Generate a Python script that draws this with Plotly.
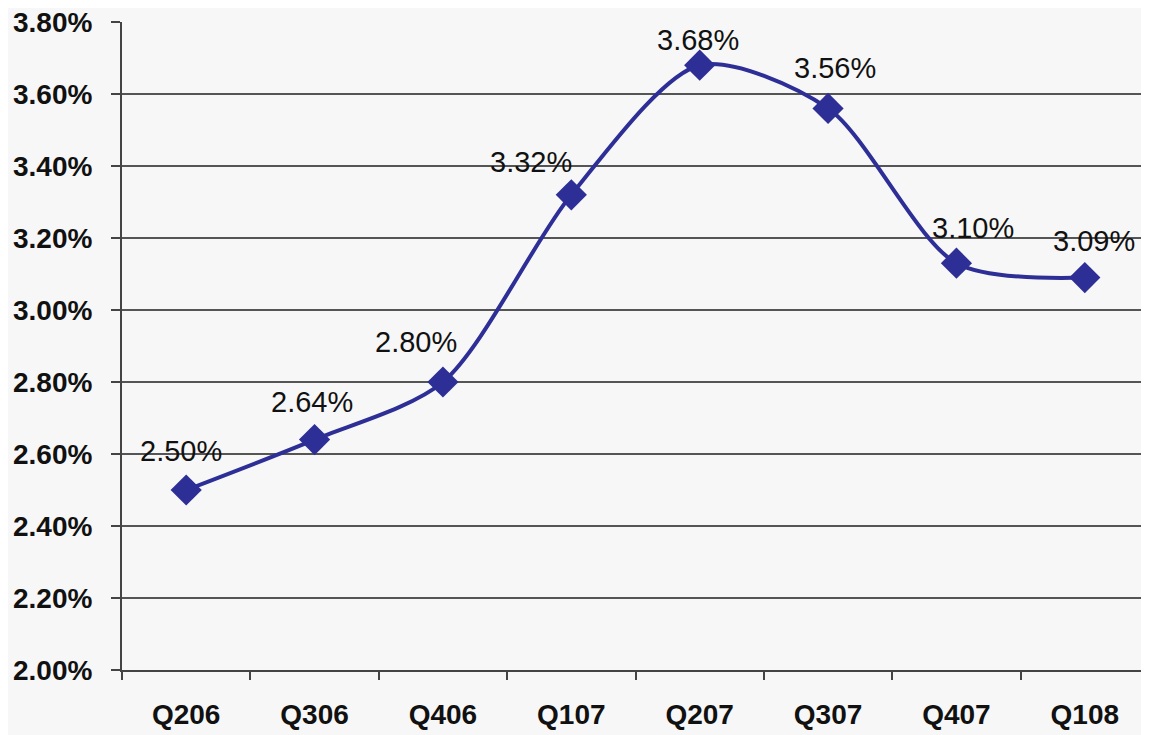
import plotly.graph_objects as go

quarters = ["Q206", "Q306", "Q406", "Q107", "Q207", "Q307", "Q407", "Q108"]
values = [2.50, 2.64, 2.80, 3.32, 3.68, 3.56, 3.13, 3.09]
labels = ["2.50%", "2.64%", "2.80%", "3.32%", "3.68%", "3.56%", "3.10%", "3.09%"]
y_ticks = [2.0, 2.2, 2.4, 2.6, 2.8, 3.0, 3.2, 3.4, 3.6, 3.8]

# label offsets (style)
x_shifts = [-5, -3, -27, -40, -2, 7, 17, 9]
y_shifts = [39, 38, 40, 33, 25, 40, 35, 37]

FONT = "Liberation Sans, Arial"

fig = go.Figure()
fig.add_trace(go.Scatter(
    x=quarters, y=values, mode="lines+markers",
    line=dict(color="#2e2f96", width=4, shape="spline", smoothing=0.8),
    marker=dict(symbol="diamond", size=24, color="#2e2f96"),
    hoverinfo="skip", showlegend=False,
))

for q, v, t, dx, dy in zip(quarters, values, labels, x_shifts, y_shifts):
    fig.add_annotation(x=q, y=v, text=t, showarrow=False, xshift=dx, yshift=dy,
                       font=dict(family=FONT, size=29, color="#111111"))

fig.update_layout(
    width=1141, height=727,
    margin=dict(l=114, r=0, t=14, b=65),
    paper_bgcolor="#f7f7f7", plot_bgcolor="#f7f7f7",
    font=dict(family=FONT, color="#111111"),
)
fig.update_xaxes(
    type="category", range=[-0.5, 7.5],
    tickson="boundaries", ticks="outside", ticklen=8, tickwidth=2, tickcolor="#444444",
    ticklabelstandoff=18,
    showline=True, linecolor="#444444", linewidth=2,
    showgrid=False,
    tickfont=dict(size=28, family=FONT, weight="bold", color="#111111"),
)
fig.update_yaxes(
    range=[2.0, 3.8], tickvals=y_ticks,
    ticktext=[f"{v:.2f}%" for v in y_ticks],
    ticks="outside", ticklen=9, tickwidth=2, tickcolor="#444444",
    ticklabelstandoff=13, ticklabeloverflow="allow",
    showline=True, linecolor="#444444", linewidth=2,
    showgrid=True, gridcolor="#555555", gridwidth=2,
    zeroline=False,
    tickfont=dict(size=28, family=FONT, weight="bold", color="#111111"),
)

fig.write_html("out.html")
